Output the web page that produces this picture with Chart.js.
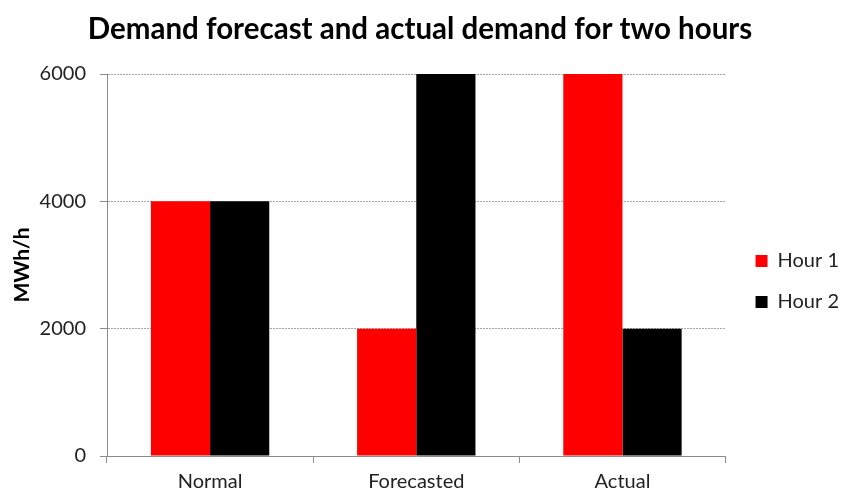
<!DOCTYPE html>
<html>
<head>
<meta charset="utf-8">
<script src="https://cdn.jsdelivr.net/npm/chart.js@4"></script>
<style>
  html, body { margin: 0; padding: 0; background: #ffffff; }
  #wrap { width: 842px; height: 493px; }
</style>
</head>
<body>
<div id="wrap"><canvas id="chart" width="842" height="493"></canvas></div>
<script>
// Demand per scenario, MWh/h
const categories = ['Normal', 'Forecasted', 'Actual'];
const hour1 = [4000, 2000, 6000];
const hour2 = [4000, 6000, 2000];
const seriesNames = ['Hour 1', 'Hour 2'];
const yTicks = [0, 2000, 4000, 6000];

const FONT = 'Lato, "Open Sans", sans-serif';
const AXIS_GREY = '#8c8c8c';
const TEXT = '#222222';

// Nudges the legend block to the right, away from the plot edge.
const legendNudge = {
  id: 'legendNudge',
  afterLayout(chart) {
    const lg = chart.legend;
    if (lg) { lg.left += 9; lg.right += 9; }
  }
};

new Chart(document.getElementById('chart'), {
  type: 'bar',
  data: {
    labels: categories,
    datasets: [
      { label: seriesNames[0], data: hour1, backgroundColor: '#ff0000' },
      { label: seriesNames[1], data: hour2, backgroundColor: '#000000' }
    ]
  },
  plugins: [legendNudge],
  options: {
    responsive: false,
    animation: false,
    devicePixelRatio: 1,
    layout: { padding: { left: 0, right: 2, top: 0, bottom: 0 } },
    datasets: {
      bar: { categoryPercentage: 0.574, barPercentage: 1.0, borderWidth: 0 }
    },
    plugins: {
      title: {
        display: true,
        text: 'Demand forecast and actual demand for two hours',
        color: '#000000',
        font: { family: FONT, size: 29.5, weight: 'bold' },
        padding: { top: 12, bottom: 26.6 }
      },
      legend: {
        position: 'right',
        align: 'center',
        title: { display: true, text: ' ', font: { size: 10 }, padding: { top: 58, bottom: 0 } },
        labels: {
          boxWidth: 12,
          boxHeight: 12,
          padding: 21,
          color: TEXT,
          font: { family: FONT, size: 20 }
        }
      },
      tooltip: { enabled: false }
    },
    scales: {
      x: {
        offset: true,
        grid: {
          offset: true,
          drawOnChartArea: false,
          drawTicks: true,
          tickLength: 7,
          tickColor: AXIS_GREY,
          color: AXIS_GREY
        },
        border: { display: true, color: AXIS_GREY, width: 1 },
        ticks: { color: TEXT, font: { family: FONT, size: 20 }, padding: 7 },
        afterFit: (s) => { s.height = 37; }
      },
      y: {
        min: 0,
        max: 6000,
        afterBuildTicks: (s) => { s.ticks = yTicks.map(v => ({ value: v })); },
        grid: {
          color: (ctx) => (ctx.tick && ctx.tick.value === 0 ? 'rgba(0,0,0,0)' : '#a6a6a6'),
          lineWidth: 1,
          drawTicks: true,
          tickLength: 7,
          tickColor: AXIS_GREY,
          tickBorderDash: []
        },
        border: { display: true, color: AXIS_GREY, width: 1, dash: [2, 1] },
        ticks: {
          color: TEXT,
          font: { family: FONT, size: 20 },
          padding: 14,
          callback: (v) => String(v)
        },
        title: {
          display: true,
          text: 'MWh/h',
          color: '#000000',
          font: { family: FONT, size: 21, weight: 'bold' },
          padding: { top: 10, bottom: 0 }
        },
        afterFit: (s) => { s.width = 107; }
      }
    }
  }
});
</script>
</body>
</html>
